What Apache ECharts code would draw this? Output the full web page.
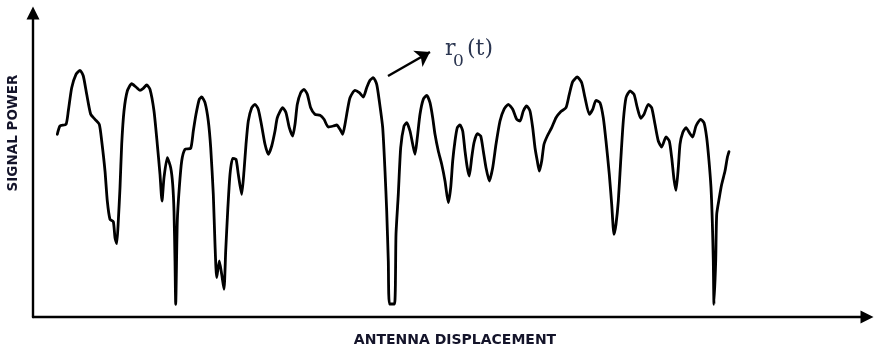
<!DOCTYPE html>
<html>
<head>
<meta charset="utf-8">
<script src="https://cdn.jsdelivr.net/npm/echarts@6/dist/echarts.min.js"></script>
<style>
html,body{margin:0;padding:0;background:#fff;}
#chart{width:874px;height:349px;}
</style>
</head>
<body>
<div id="chart"></div>
<script>
// Antenna displacement (arbitrary units) and received signal power (arbitrary units)
var displacement = [
 24.3,27,33,35.3,38.7,43,47,50.3,53.7,57.7,62,66.3,68.7,72,74.3,77,80.3,82,83.7,85.3,
 87,88.7,91,94.3,98.7,103,107,110.3,113.7,117,121,124.3,127,129,131,134.3,137.7,139.7,141,142,
 142.7,144.3,146.3,148.7,152,157.7,160.3,163,166.3,168.7,172,175.3,177.7,180.3,182,183.7,186.3,188.7,191,192.7,
 194.7,197,199.7,203,205.3,208.7,211,213,215.3,218.7,222,225.3,228.7,232,235.3,238.7,242,244.3,249.7,253,
 256.3,259.7,262,264.3,267.7,271,274.3,277.7,282,287,291,295.3,300.3,303.7,307,309.7,312,314.3,317,322,
 326.3,330.3,333.7,337,340.3,343.7,346.3,349.7,352,353.7,355.3,356.5,361.5,363,365.3,367.7,371,373.7,377,379.7,
 382,384.3,387,390.3,393.7,397,399.7,402,405.3,408.7,412,415.3,417.7,419.7,422,424.3,427,429.7,432,434.3,
 436.3,438.7,441,444.3,447.7,450.3,453,456.3,459.7,463,467,471,475.3,479.7,483.7,487,490.3,493.7,497,499.7,
 502,504.3,506.3,508.7,511,514.3,518.7,523,527.7,533,536.3,539.7,544.3,548.7,552,556.3,559.7,563,567,570.3,
 573,576.3,578.7,581,583,585.3,587.7,590.3,593,597,601,604.3,607.7,611,615.3,618.7,622,625.3,628.7,633,
 636.3,638.7,641,643,645.3,647,649.7,653,657,659.7,663,667.7,671,673.7,676,678,679.3,680.3,681,682.7,
 683.7,686.3,688.7,692,694.3,696
];
var signalPower = [
 182.7,191,192.7,206,229.3,242.7,246.7,241,222.7,202.7,197.7,192.7,176,146,116,97.7,95.3,79.3,73.3,96,
 129.3,172.7,206,226,233.3,230,226.7,228.7,232,227.7,206,172.7,142.7,116,139.3,159.3,149.3,132.7,106,56,
 12.7,96,129.3,156,167.7,168.7,186,202.7,217.7,220,214.3,196,169.3,122.7,72.7,39.3,56,42.7,27.7,66,
 106,142.7,158.7,157.7,142.7,122.7,146,172.7,196,209.3,212.7,207.7,191,172.7,162.7,171,186,199.3,209.3,204.3,
 189.3,181,192.7,212.7,224.3,227.7,222.7,209.3,202.7,201.7,197.7,190,191,192,187.7,182.7,192.7,206,219.3,226.7,
 224.3,220,229.3,236.7,239.3,232.7,216,189.3,146,106,56,13,13,82.7,122.7,169.3,191,194.3,186,172.7,
 162.7,179.3,202.7,217.7,221.7,214.3,199.3,182.7,166,152.7,136,114.3,129.3,156,176,189.3,192,186,166,149.3,
 141,159.3,174.3,183.3,181,166,149.3,136,149.3,172.7,196,207.7,212.7,207.7,197.7,196,206,211,206,189.3,
 169.3,156,146,156,172.7,181,189.3,199.3,205.3,209.3,222.7,235.3,240,234.3,219.3,202.7,207.7,216.7,214.3,199.3,
 176,142.7,112.7,82.7,92.7,116,156,196,219.3,226,222.7,209.3,198.7,202.7,212.7,209.3,192.7,176,170,180,
 176,159.3,137.7,126.7,149.3,172.7,184.3,189.3,183.3,180,191,197.7,194.3,179.3,156,129.3,96,56,12.7,56,
 102.7,119.3,132.7,146,159.3,165.3
];
var xAxisTitle = 'ANTENNA DISPLACEMENT';
var yAxisTitle = 'SIGNAL POWER';
var curveLabel = ['r', '0', '(t)'];
var annotationStart = [355, 241];
var annotationEnd = [397, 265];

var seriesData = displacement.map(function (d, i) { return [d, signalPower[i]]; });

var chart = echarts.init(document.getElementById('chart'), null, {renderer: 'canvas'});
var labelColor = '#14142a';
var mathColor = '#2a3550';
chart.setOption({
  animation: false,
  backgroundColor: '#ffffff',
  grid: {left: 33, right: 7, top: 13, bottom: 32, containLabel: false},
  xAxis: {
    type: 'value', min: 0, max: 834,
    axisLine: {show: true, lineStyle: {color: '#000', width: 2.4}, symbol: ['none', 'triangle'], symbolSize: [13, 13]},
    axisTick: {show: false}, axisLabel: {show: false}, splitLine: {show: false}
  },
  yAxis: {
    type: 'value', min: 0, max: 304,
    axisLine: {show: true, onZero: false, lineStyle: {color: '#000', width: 2.4}, symbol: ['none', 'triangle'], symbolSize: [13, 13]},
    axisTick: {show: false}, axisLabel: {show: false}, splitLine: {show: false}
  },
  series: [{
    type: 'line',
    data: seriesData,
    showSymbol: false,
    symbol: 'none',
    smooth: 0.2,
    lineStyle: {color: '#000', width: 2.8, join: 'round', cap: 'round'},
    markLine: {
      silent: true,
      symbol: ['none', 'arrow'],
      symbolSize: 14,
      label: {show: false},
      lineStyle: {color: '#000', width: 2.4, type: 'solid'},
      data: [[{coord: annotationStart}, {coord: annotationEnd}]]
    }
  }],
  graphic: [
    {type: 'text', x: 13, y: 133, rotation: Math.PI / 2,
     style: {text: yAxisTitle, fill: labelColor, font: 'bold 13.5px "DejaVu Sans"', align: 'center', verticalAlign: 'middle'}},
    {type: 'text', x: 455, y: 340,
     style: {text: xAxisTitle, fill: labelColor, font: 'bold 14px "DejaVu Sans"', align: 'center', verticalAlign: 'middle'}},
    {type: 'text', x: 445, y: 49,
     style: {text: curveLabel[0], fill: mathColor, font: '22px "DejaVu Serif"', align: 'left', verticalAlign: 'middle'}},
    {type: 'text', x: 453, y: 61.5,
     style: {text: curveLabel[1], fill: mathColor, font: '17px "DejaVu Serif"', align: 'left', verticalAlign: 'middle'}},
    {type: 'text', x: 467, y: 49,
     style: {text: curveLabel[2], fill: mathColor, font: '22px "DejaVu Serif"', align: 'left', verticalAlign: 'middle'}}
  ]
});
</script>
</body>
</html>
